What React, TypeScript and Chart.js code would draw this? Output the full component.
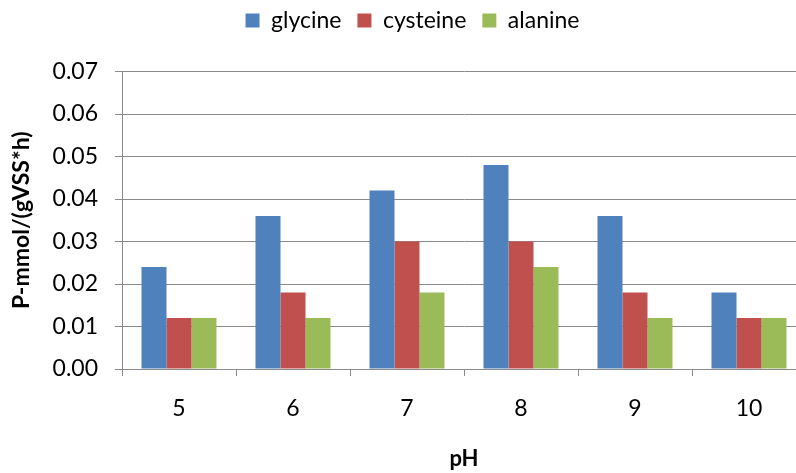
import React, { useEffect, useRef } from "react";
import { Chart, registerables } from "chart.js";

Chart.register(...registerables);

// pH levels on the category axis
const phLevels: string[] = ["5", "6", "7", "8", "9", "10"];

// production rate, P-mmol/(gVSS*h)
const glycine: number[] = [0.024, 0.036, 0.042, 0.048, 0.036, 0.018];
const cysteine: number[] = [0.012, 0.018, 0.03, 0.03, 0.018, 0.012];
const alanine: number[] = [0.012, 0.012, 0.018, 0.024, 0.012, 0.012];

// value axis range
const Y_MIN = 0;
const Y_MAX = 0.07;
const Y_STEP = 0.01;

const FONT = "Lato, 'Open Sans', sans-serif";
const GRID = "#8a8a8a";

// Gives the legend a fixed band above the plot and nudges it into place.
const legendBand = {
  id: "legendBand",
  beforeInit(chart: any) {
    const legend = chart.legend;
    if (!legend) return;
    const fit = legend.fit;
    legend.fit = function () {
      fit.call(this);
      this.height = 71.5;
    };
  },
  afterLayout(chart: any) {
    const legend = chart.legend;
    if (!legend) return;
    legend.left += 9.5;
    legend.right += 9.5;
    legend.top -= 7;
    legend.bottom -= 7;
  },
};

export default function App() {
  const canvasRef = useRef<HTMLCanvasElement | null>(null);

  useEffect(() => {
    if (!canvasRef.current) return;
    const chart = new Chart(canvasRef.current, {
      type: "bar",
      data: {
        labels: phLevels,
        datasets: [
          { label: "glycine", data: glycine, backgroundColor: "#4F81BD" },
          { label: "cysteine", data: cysteine, backgroundColor: "#C0504D" },
          { label: "alanine", data: alanine, backgroundColor: "#9BBB59" },
        ],
      },
      options: {
        responsive: false,
        animation: false,
        devicePixelRatio: 1,
        layout: { padding: 0 },
        datasets: {
          bar: { categoryPercentage: 0.658, barPercentage: 1 },
        },
        plugins: {
          tooltip: { enabled: false },
          legend: {
            position: "top",
            align: "center",
            labels: {
              boxWidth: 14,
              boxHeight: 14,
              padding: 16,
              color: "#000",
              font: { family: FONT, size: 23 },
            },
          },
        },
        scales: {
          x: {
            grid: {
              display: true,
              drawOnChartArea: false,
              drawTicks: true,
              tickLength: 7,
              color: GRID,
              offset: true,
            },
            border: { display: true, color: GRID, width: 1 },
            ticks: {
              color: "#000",
              font: { family: FONT, size: 23 },
              padding: 19,
              maxRotation: 0,
            },
            title: {
              display: true,
              text: "pH",
              color: "#000",
              font: { family: FONT, size: 22, weight: "bold" },
              padding: { top: 0, bottom: 1 },
            },
            afterFit: (scale: any) => {
              scale.height = 104;
            },
          },
          y: {
            min: Y_MIN,
            max: Y_MAX,
            grid: {
              color: GRID,
              drawTicks: true,
              tickLength: 7,
            },
            border: { display: true, color: GRID, width: 1 },
            ticks: {
              stepSize: Y_STEP,
              color: "#000",
              font: { family: FONT, size: 23 },
              padding: 17,
              callback: (v: any) => Number(v).toFixed(2),
            },
            title: {
              display: true,
              text: "P-mmol/(gVSS*h)",
              color: "#000",
              font: { family: FONT, size: 23, weight: "bold" },
              padding: { top: 8, bottom: 0 },
            },
            afterFit: (scale: any) => {
              scale.width = 122;
            },
          },
        },
      },
      plugins: [legendBand],
    });
    return () => chart.destroy();
  }, []);

  return (
    <div
      style={{
        position: "fixed",
        left: 0,
        top: 0,
        width: 796,
        height: 473,
        overflow: "hidden",
        background: "#fff",
      }}
    >
      <canvas ref={canvasRef} width={806} height={473} style={{ display: "block" }} />
    </div>
  );
}
